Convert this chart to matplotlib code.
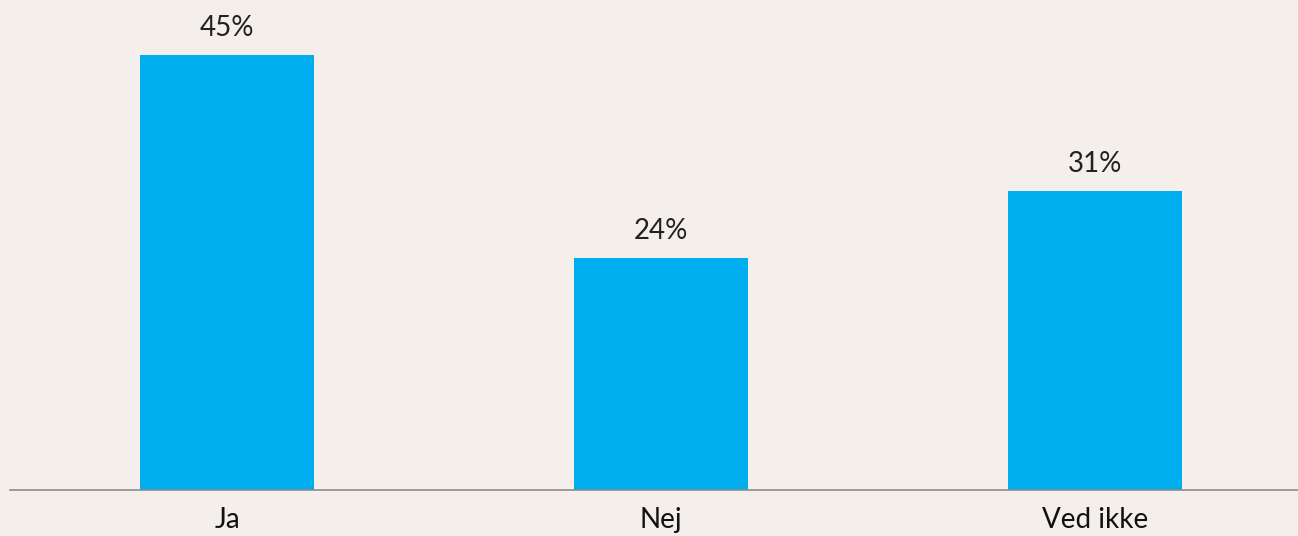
import matplotlib.pyplot as plt

# Data
categories = ['Ja', 'Nej', 'Ved ikke']
values = [45, 24, 31]
labels = ['45%', '24%', '31%']

bg = '#F4EFEB'
bar_color = '#00AEEF'

plt.rcParams['font.family'] = ['Lato', 'DejaVu Sans']

fig = plt.figure(figsize=(12.98, 5.36), dpi=100, facecolor=bg)
# axes spans from x=10px, baseline at y=490px
ax = fig.add_axes([10 / 1298, 46 / 536, 1302 / 1298, 483 / 536])
ax.set_facecolor(bg)

x = range(len(categories))
bars = ax.bar(x, values, width=0.4, color=bar_color)
ax.set_xlim(-0.5, 2.5)
ax.set_ylim(0, 50)

for b, lab in zip(bars, labels):
    ax.annotate(lab, (b.get_x() + b.get_width() / 2, b.get_height()),
                xytext=(0, 10), textcoords='offset points',
                ha='center', va='bottom', fontsize=20, color='#222222')

ax.set_xticks(list(x))
ax.set_xticklabels(categories, fontsize=20, color='#111111')
ax.tick_params(axis='x', length=0, pad=12)
ax.set_yticks([])
for s in ['top', 'right', 'left']:
    ax.spines[s].set_visible(False)
ax.spines['bottom'].set_color('#8C8C8C')
ax.spines['bottom'].set_linewidth(1.2)

fig.savefig('out.png', dpi=100, facecolor=bg)
